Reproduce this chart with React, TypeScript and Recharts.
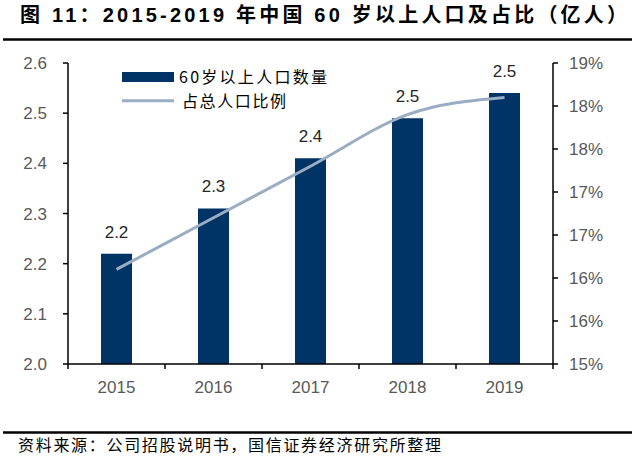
import React from 'react';
import {
  ComposedChart,
  Bar,
  Line,
  XAxis,
  YAxis,
  LabelList,
} from 'recharts';

const years = ['2015', '2016', '2017', '2018', '2019'];
const population = [2.22, 2.31, 2.41, 2.49, 2.54];
const share = [16.1, 16.7, 17.3, 17.9, 18.1];

const leftTicks = [2.0, 2.1, 2.2, 2.3, 2.4, 2.5, 2.6];
const rightTicks = [15, 15.5, 16, 16.5, 17, 17.5, 18, 18.5];

const BAR_COLOR = '#003366';
const LINE_COLOR = '#9AADC2';
const LABEL_GRAY = '#595959';
const FONT = '"Liberation Sans", Arial, "Noto Sans CJK SC", sans-serif';
const CJK = '"Noto Sans CJK SC", "Liberation Sans", sans-serif';

const data = years.map((year, i) => ({
  year,
  population: population[i],
  share: share[i],
}));

const YearTick = (props: any) => {
  const { x, y, payload, index } = props;
  const half = payload && payload.offset ? payload.offset : 48.5;
  return (
    <g>
      <line x1={x - half} x2={x - half} y1={y} y2={y + 5} stroke="#000" strokeWidth={1.5} />
      {index === years.length - 1 && (
        <line x1={x + half} x2={x + half} y1={y} y2={y + 5} stroke="#000" strokeWidth={1.5} />
      )}
      <text x={x} y={y + 29} textAnchor="middle" fill={LABEL_GRAY} fontSize={17} fontFamily={FONT}>
        {payload.value}
      </text>
    </g>
  );
};

export default function App() {
  return (
    <div style={{ position: 'absolute', left: 0, top: 0, width: 635, height: 461, background: '#fff' }}>
      <div style={{ position: 'absolute', left: 0, top: 0 }}>
        <ComposedChart
          width={635}
          height={461}
          data={data}
          margin={{ top: 63, right: 22, bottom: 67, left: 8 }}
        >
          <XAxis
            dataKey="year"
            height={30}
            axisLine={{ stroke: '#000', strokeWidth: 1.5 }}
            tickLine={false}
            tickSize={0}
            tickMargin={0}
            tick={<YearTick />}
            interval={0}
          />
          <YAxis
            yAxisId="left"
            width={60}
            domain={[2.0, 2.6]}
            ticks={leftTicks}
            tickFormatter={(v: number) => v.toFixed(1)}
            axisLine={{ stroke: '#000', strokeWidth: 1.5 }}
            tickLine={{ stroke: '#000', strokeWidth: 1.5 }}
            tickSize={5}
            tickMargin={16}
            tick={{ fill: LABEL_GRAY, fontSize: 17, fontFamily: FONT }}
            allowDataOverflow
          />
          <YAxis
            yAxisId="right"
            orientation="right"
            width={60}
            domain={[15, 18.5]}
            ticks={rightTicks}
            tickFormatter={(v: number) => `${Math.round(v)}%`}
            axisLine={{ stroke: '#000', strokeWidth: 1.5 }}
            tickLine={{ stroke: '#000', strokeWidth: 1.5 }}
            tickSize={5}
            tickMargin={11}
            tick={{ fill: LABEL_GRAY, fontSize: 17, fontFamily: FONT, textAnchor: 'start' }}
            allowDataOverflow
          />
          <Bar
            yAxisId="left"
            dataKey="population"
            name="60岁以上人口数量"
            fill={BAR_COLOR}
            barSize={31}
            isAnimationActive={false}
          >
            <LabelList
              dataKey="population"
              position="top"
              offset={16}
              formatter={(v: number) => v.toFixed(1)}
              style={{ fill: '#262626', fontSize: 17, fontFamily: FONT }}
            />
          </Bar>
          <Line
            yAxisId="right"
            dataKey="share"
            name="占总人口比例"
            type="monotone"
            stroke={LINE_COLOR}
            strokeWidth={3}
            dot={false}
            activeDot={false}
            isAnimationActive={false}
          />
        </ComposedChart>
      </div>
      <svg width={635} height={461} style={{ position: 'absolute', left: 0, top: 0, pointerEvents: 'none' }}>
        <text x={20} y={22} fontSize={20} fontWeight="bold" fontFamily={FONT} fill="#000" textLength={607} lengthAdjust="spacing">
          图 11：2015-2019 年中国 60 岁以上人口及占比（亿人）
        </text>
        <line x1={3} x2={632} y1={39.5} y2={39.5} stroke="#000" strokeWidth={2.5} />
        <rect x={122} y={72} width={52} height={10} fill={BAR_COLOR} />
        <text x={179} y={83} fontSize={16} fontFamily={CJK} fill="#000" textLength={148} lengthAdjust="spacing">
          60岁以上人口数量
        </text>
        <line x1={122} x2={174} y1={100.7} y2={100.7} stroke={LINE_COLOR} strokeWidth={3} />
        <text x={182} y={106.5} fontSize={16} fontFamily={CJK} fill="#000" textLength={104} lengthAdjust="spacing">
          占总人口比例
        </text>
        <line x1={3} x2={632} y1={432.5} y2={432.5} stroke="#000" strokeWidth={2.3} />
        <text x={18} y={451} fontSize={16} fontFamily={CJK} fill="#000" textLength={423} lengthAdjust="spacing">
          资料来源：公司招股说明书，国信证券经济研究所整理
        </text>
      </svg>
    </div>
  );
}
